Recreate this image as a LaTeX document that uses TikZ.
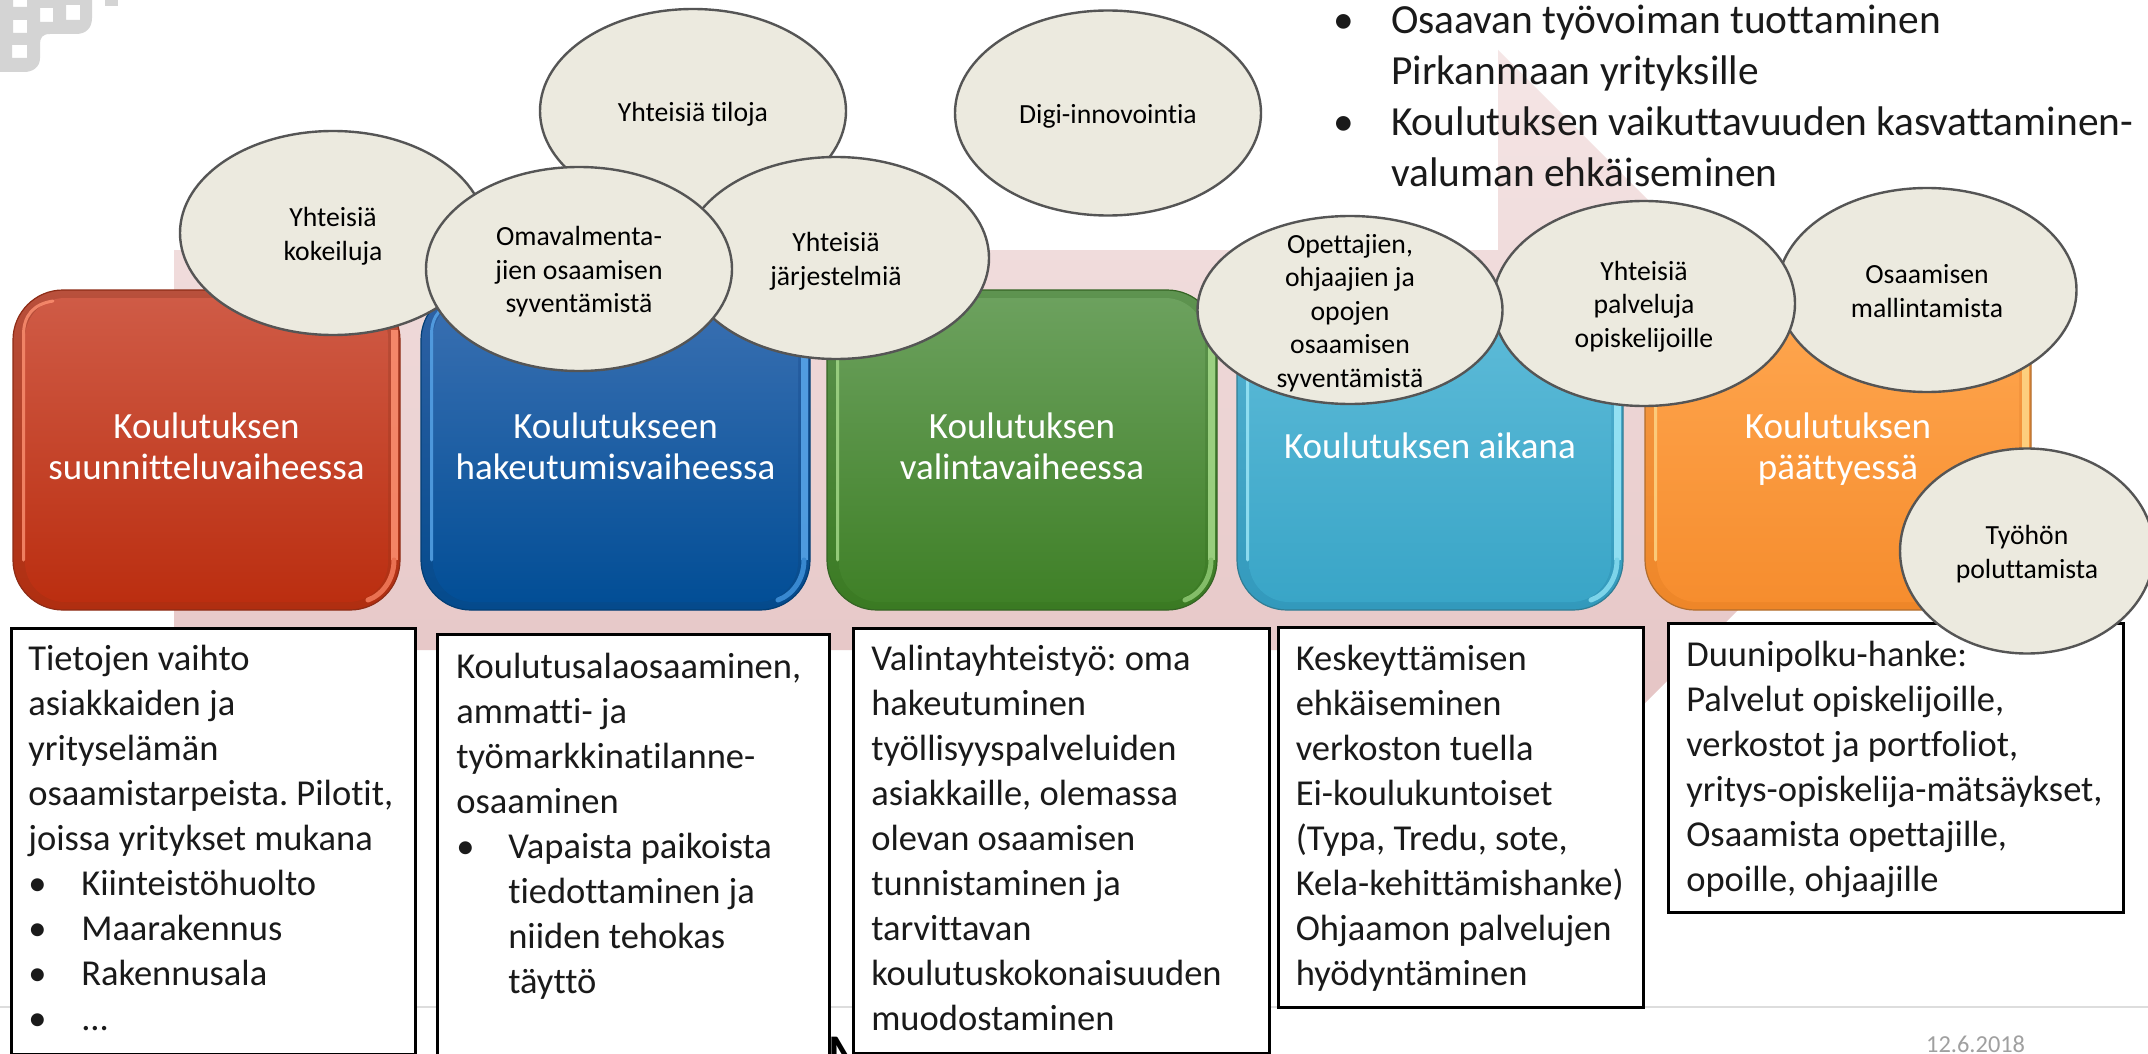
\documentclass[tikz,border=0pt]{standalone}
\usepackage{fontspec}
\setmainfont[Ligatures=NoCommon]{Carlito}
\usetikzlibrary{shapes.geometric}
\newcommand{\hx}[1]{\definecolor{#1}{HTML}{#1}}
\hx{F5E6E6}\hx{E2BEBE}\hx{D4D4D4}\hx{DDDDDD}\hx{A0A0A0}
\hx{B8503C}\hx{C0401F}\hx{B02E10}\hx{CF5B46}\hx{CB3F20}\hx{BB2E10}
\hx{2F62A5}\hx{0A5BA8}\hx{044A8C}\hx{3A70B2}\hx{0459A6}\hx{024E96}
\hx{5E9350}\hx{47882F}\hx{3A7A22}\hx{6CA15E}\hx{4B8F33}\hx{3F8027}
\hx{55B3D2}\hx{3FA9CB}\hx{3299BC}\hx{5FBCD9}\hx{46B2D3}\hx{39A5C7}
\hx{F59B48}\hx{F79539}\hx{EE8628}\hx{FFA750}\hx{FF9C40}\hx{F68D2E}
\definecolor{inkc}{HTML}{1A1A1A}
\definecolor{ellfill}{HTML}{ECEADF}
\definecolor{ellline}{HTML}{555555}
\frenchspacing
\tikzset{
  pinkarrow/.style={top color=F5E6E6, bottom color=E2BEBE, draw=none},
  steprim/.style={rectangle, rounded corners=50pt, inner sep=0pt, draw=#1, line width=1.2pt},
  stepface/.style={rectangle, rounded corners=40pt, inner sep=0pt, text=white, align=center},
  bubble/.style={ellipse, inner sep=0pt, fill=ellfill, draw=ellline, line width=2.4pt, text=black,
     font=\fontsize{27.7}{33.5}\selectfont},
  wbox/.style={rectangle, anchor=north west, fill=white, draw=black, line width=2.6pt, inner ysep=0pt, text=inkc,
     font=\fontsize{36.5}{45}\selectfont},
  toptext/.style={rectangle, anchor=north west, inner sep=0pt, text=inkc, font=\fontsize{41.4}{51}\selectfont},
  redring/.style={top color=B8503C, middle color=C0401F, bottom color=B02E10},
  redface/.style={top color=CF5B46, middle color=CB3F20, bottom color=BB2E10},
  bluering/.style={top color=2F62A5, middle color=0A5BA8, bottom color=044A8C},
  blueface/.style={top color=3A70B2, middle color=0459A6, bottom color=024E96},
  greenring/.style={top color=5E9350, middle color=47882F, bottom color=3A7A22},
  greenface/.style={top color=6CA15E, middle color=4B8F33, bottom color=3F8027},
  cyanring/.style={top color=55B3D2, middle color=3FA9CB, bottom color=3299BC},
  cyanface/.style={top color=5FBCD9, middle color=46B2D3, bottom color=39A5C7},
  orangering/.style={top color=F59B48, middle color=F79539, bottom color=EE8628},
  orangeface/.style={top color=FFA750, middle color=FF9C40, bottom color=F68D2E},
}
% zero-size centred lines, so that the shape keeps its given size
\newcommand{\cenlines}[2][10]{\smash{\makebox[0pt]{\raisebox{-#1pt}{\begin{tabular}{@{}c@{}}#2\end{tabular}}}}}
% fixed-size text block: height, width, first-line offset, lines
\newcommand{\txtblock}[4]{\vbox to #1pt{\hsize=#2pt\parindent=0pt\parskip=0pt\raggedright\vskip #3pt\hbox{}#4\par\vss}}
\newcommand{\bul}[2]{\makebox[#1pt][l]{•}#2}
\newcommand{\cont}[2]{\hspace*{#1pt}#2}
% rounded step box: name, left, right, colour prefix, light colour, text
\newcommand{\stepshape}[6]{%
  \node[steprim=#4face@mid!70!black, #4ring, minimum width={#3-#2}, minimum height=320] (#1rim) at ({(#2+#3)/2},450) {};
  \node[stepface, #4face, minimum width={#3-#2-24}, minimum height=304,
        font=\fontsize{37}{41}\selectfont] (#1) at ({(#2+#3)/2},450) {\cenlines[7]{#6}};
  \draw[#5, line width=3pt, line cap=round, opacity=.8]
     ({#2+10.5},560) -- ({#2+10.5},335) .. controls ({#2+10.5},316) and ({#2+20},304) .. ({#2+40},301);
  \draw[#5, line width=7pt, opacity=.85] ({#3-6},330) -- ({#3-6},560);
  \draw[#5!60!#4face@mid, line width=5pt, line cap=round] ({#3-6},560) .. controls ({#3-6},580) and ({#3-18},595) .. ({#3-32},600);
}
\definecolor{redface@mid}{HTML}{CB3F20}
\definecolor{blueface@mid}{HTML}{0459A6}
\definecolor{greenface@mid}{HTML}{4B8F33}
\definecolor{cyanface@mid}{HTML}{46B2D3}
\definecolor{orangeface@mid}{HTML}{FF9C40}
\definecolor{redlt}{HTML}{FF9273}
\definecolor{bluelt}{HTML}{5AA8EC}
\definecolor{greenlt}{HTML}{A8DC8C}
\definecolor{cyanlt}{HTML}{A0EAFA}
\definecolor{orangelt}{HTML}{FFD98A}
\begin{document}
\begin{tikzpicture}[x=1pt,y=-1pt]
\useasboundingbox (0,0) rectangle (2148,1054);
\fill[white] (0,0) rectangle (2148,1054);

% logo fragment
\fill[even odd rule, fill=D4D4D4] (0,0) -- (92,0) -- (92,18) .. controls (92,28) and (86,34) .. (76,34)
   -- (50,34) .. controls (42,34) and (40,38) .. (40,44) -- (40,58) .. controls (40,67) and (33,72) .. (24,72) -- (0,72) -- cycle
   (13,0) rectangle (27,7) (13,20) rectangle (27,33) (12,45) rectangle (27,58)
   (40,8) rectangle (53,22) (66,5) rectangle (80,20);
\fill[D4D4D4] (105,0) rectangle (118,6);

% footer rule and hidden title
\draw[draw=DDDDDD, line width=2pt] (0,1007) -- (2148,1007);
\node[anchor=base west, inner sep=0pt, font=\fontsize{66}{70}\selectfont, text=black] (footer) at (826,1079) {M};

% big arrow
\path[pinkarrow] (174,250) -- (1498,250) -- (1498,50) -- (1898,450) -- (1498,850) -- (1498,650) -- (174,650) -- cycle;

% goals text
\node[toptext] (goals) at (1333,-18) {\txtblock{220}{800}{0}{%
  \bul{58}{Osaavan työvoiman tuottaminen}\\
  \cont{58}{Pirkanmaan yrityksille}\\
  \bul{58}{Koulutuksen vaikuttavuuden kasvattaminen-}\\
  \cont{58}{valuman ehkäiseminen}}};

% steps
\stepshape{s1}{13}{400}{red}{redlt}{Koulutuksen\\suunnitteluvaiheessa}
\stepshape{s2}{421}{810}{blue}{bluelt}{Koulutukseen\\hakeutumisvaiheessa}
\stepshape{s3}{827}{1217}{green}{greenlt}{Koulutuksen\\valintavaiheessa}
\stepshape{s4}{1237}{1623}{cyan}{cyanlt}{Koulutuksen aikana}
\stepshape{s5}{1645}{2031}{orange}{orangelt}{Koulutuksen\\päättyessä}

% text boxes
\node[wbox, inner xsep=17pt] (b1) at (10,627) {\txtblock{426}{370}{-3}{%
  Tietojen vaihto\\asiakkaiden ja\\yrityselämän\\osaamistarpeista. Pilotit,\\joissa yritykset mukana\\
  \bul{53}{Kiinteistöhuolto}\\\bul{53}{Maarakennus}\\\bul{53}{Rakennusala}\\\bul{53}{...}}};
\node[wbox, inner xsep=19pt] (b2) at (436,633) {\txtblock{430}{354}{-1}{%
  Koulutusalaosaaminen,\\ammatti- ja\\työmarkkinatilanne-\\osaaminen\\
  \bul{52}{Vapaista paikoista}\\\cont{52}{tiedottaminen ja}\\\cont{52}{niiden tehokas}\\\cont{52}{täyttö}}};
\node[wbox, inner xsep=18pt] (b3) at (852,627) {\txtblock{425}{380}{-3}{%
  Valintayhteistyö: oma\\hakeutuminen\\työllisyyspalveluiden\\asiakkaille, olemassa\\olevan osaamisen\\tunnistaminen ja\\tarvittavan\\koulutuskokonaisuuden\\muodostaminen}};
\node[wbox, inner xsep=17.5pt] (b4) at (1277,626) {\txtblock{380}{330}{-2}{%
  Keskeyttämisen\\ehkäiseminen\\verkoston tuella\\Ei-koulukuntoiset\\(Typa, Tredu, sote,\\Kela-kehittämishanke)\\Ohjaamon palvelujen\\hyödyntäminen}};
\node[wbox, inner xsep=18pt] (b5) at (1667,622) {\txtblock{289}{419}{-2}{%
  Duunipolku-hanke:\\Palvelut opiskelijoille,\\verkostot ja portfoliot,\\yritys-opiskelija-mätsäykset,\\Osaamista opettajille,\\opoille, ohjaajille}};

% bubbles
\node[bubble, minimum width=306, minimum height=204] (kok) at (333,233) {\cenlines{Yhteisiä\\kokeiluja}};
\node[bubble, minimum width=306, minimum height=204] (til) at (693,111) {\cenlines{Yhteisiä tiloja}};
\node[bubble, minimum width=306, minimum height=202] (jar) at (836,258) {\cenlines{Yhteisiä\\järjestelmiä}};
\node[bubble, minimum width=306, minimum height=204] (oma) at (579,269) {\cenlines{Omavalmenta-\\jien osaamisen\\syventämistä}};
\node[bubble, minimum width=306, minimum height=205] (dig) at (1108,113) {\cenlines{Digi-innovointia}};
\node[bubble, minimum width=299, minimum height=204] (osa) at (1927,290) {\cenlines{Osaamisen\\mallintamista}};
\node[bubble, minimum width=302, minimum height=205] (pal) at (1644,303.5) {\cenlines{Yhteisiä\\palveluja\\opiskelijoille}};
\node[bubble, minimum width=305, minimum height=188] (ope) at (1350,310) {\cenlines{Opettajien,\\ohjaajien ja\\opojen\\osaamisen\\syventämistä}};
\node[bubble, minimum width=254, minimum height=205] (tyo) at (2027,551) {\cenlines{Työhön\\poluttamista}};

% date
\node[anchor=base west, inner sep=0pt, font=\fontsize{24.4}{26}\selectfont, text=A0A0A0] (date) at (1926,1052) {12.6.2018};
\end{tikzpicture}
\end{document}
